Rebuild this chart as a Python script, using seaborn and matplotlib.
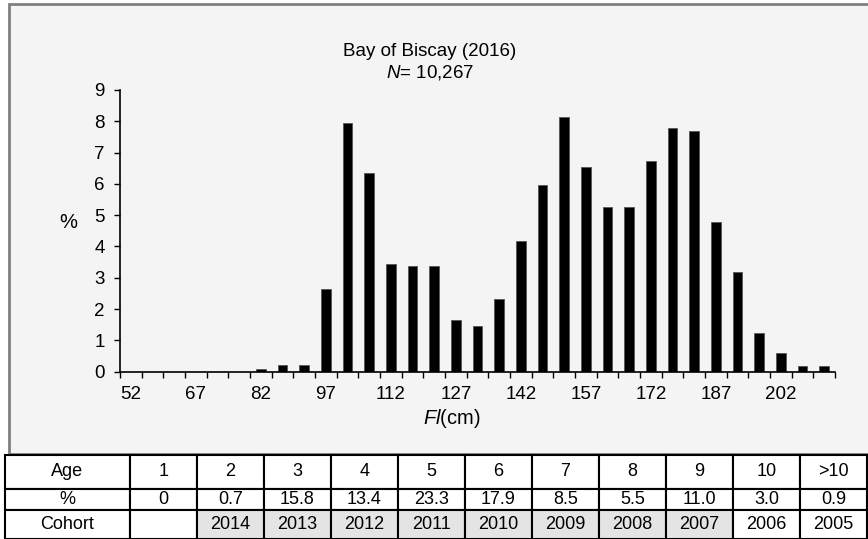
import matplotlib
matplotlib.use('Agg')
import matplotlib.pyplot as plt
import seaborn as sns
from matplotlib.patches import Rectangle

# length classes (cm) and percentage of fish in each
fl_bins = list(range(52, 213, 5))
pct = [0, 0, 0, 0, 0, 0, 0.08, 0.21, 0.21, 2.63, 7.95, 6.35, 3.43, 3.39, 3.39,
       1.66, 1.47, 2.32, 4.18, 5.96, 8.14, 6.54, 5.25, 5.25, 6.73, 7.78, 7.69,
       4.79, 3.19, 1.24, 0.60, 0.17, 0.19]
tick_labels = [str(v) for v in range(52, 203, 15)]

# age key table
ages = ['1', '2', '3', '4', '5', '6', '7', '8', '9', '10', '>10']
age_pct = ['0', '0.7', '15.8', '13.4', '23.3', '17.9', '8.5', '5.5', '11.0', '3.0', '0.9']
cohorts = ['', '2014', '2013', '2012', '2011', '2010', '2009', '2008', '2007', '2006', '2005']
shaded = [False, True, True, True, True, True, True, True, True, False, False]

sns.set_style('ticks')
plt.rcParams['font.family'] = ['Liberation Sans', 'DejaVu Sans']
plt.rcParams['mathtext.fontset'] = 'custom'
plt.rcParams['mathtext.rm'] = 'Liberation Sans'
plt.rcParams['mathtext.it'] = 'Liberation Sans:italic'
plt.rcParams['text.color'] = 'black'
plt.rcParams['xtick.color'] = 'black'
plt.rcParams['ytick.color'] = 'black'

W, H = 868, 539
fig = plt.figure(figsize=(W / 100, H / 100), dpi=100, facecolor='white')

# grey chart panel
fig.patches.append(Rectangle((9 / W, 1 - 454 / H), 870 / W, 450 / H,
                             transform=fig.transFigure, facecolor='#f4f4f4',
                             edgecolor='#808080', linewidth=2, zorder=-5))

ax = fig.add_axes([120 / W, 1 - 371.7 / H, 715 / W, 281.7 / H])
ax.set_facecolor('none')
sns.barplot(x=[str(b) for b in fl_bins], y=pct, order=[str(b) for b in fl_bins],
            color='black', width=0.46, edgecolor='#555555', linewidth=0.6,
            saturation=1, ax=ax)
ax.set_xlim(-0.5, len(fl_bins) - 0.5)
ax.set_ylim(0, 9)
ax.set_yticks(range(10))
ax.set_xticks([i - 0.5 for i in range(len(fl_bins) + 1)])
ax.set_xticklabels([])
ax.set_xticks(list(range(0, 31, 3)), minor=True)
ax.set_xticklabels(tick_labels, minor=True)
ax.tick_params(axis='x', which='major', length=4, width=1, color='black')
ax.tick_params(axis='x', which='minor', length=0, pad=10, labelsize=13.5)
ax.tick_params(axis='y', length=4, width=1, pad=7, labelsize=13.5)
ax.set_xlabel('')
ax.set_ylabel('')
sns.despine(ax=ax)
for s in ['left', 'bottom']:
    ax.spines[s].set_color('black')
    ax.spines[s].set_linewidth(1.2)

fig.text(430 / W, 1 - 51 / H, 'Bay of Biscay (2016)', ha='center', va='center', fontsize=13.5)
fig.text(430 / W, 1 - 72 / H, r'$\mathit{N}$= 10,267', ha='center', va='center', fontsize=13.5)
fig.text(68 / W, 1 - 222 / H, '%', ha='center', va='center', fontsize=14.5)
fig.text(452 / W, 1 - 418 / H, r'$\mathit{Fl}$(cm)', ha='center', va='center', fontsize=14.5)

# age table
tab = fig.add_axes([5 / W, 0, 862 / W, 84 / H])
tab.axis('off')
cells = [['Age'] + ages, ['%'] + age_pct, ['Cohort'] + cohorts]
colours = [['white'] * 12, ['white'] * 12,
           ['white'] + ['#e4e4e4' if s else 'white' for s in shaded]]
col_w = [125 / 862] + [67 / 862] * 11
table = tab.table(cellText=cells, cellColours=colours, colWidths=col_w,
                  cellLoc='center', bbox=[0, 0, 1, 1])
table.auto_set_font_size(False)
row_h = [33.5, 21, 29.5]
for (r, c), cell in table.get_celld().items():
    cell.set_height(row_h[r] / 84)
    cell.set_linewidth(1.5)
    cell.set_edgecolor('black')
    cell.get_text().set_fontsize(13)

fig.savefig('out.png', dpi=100, facecolor='white')
